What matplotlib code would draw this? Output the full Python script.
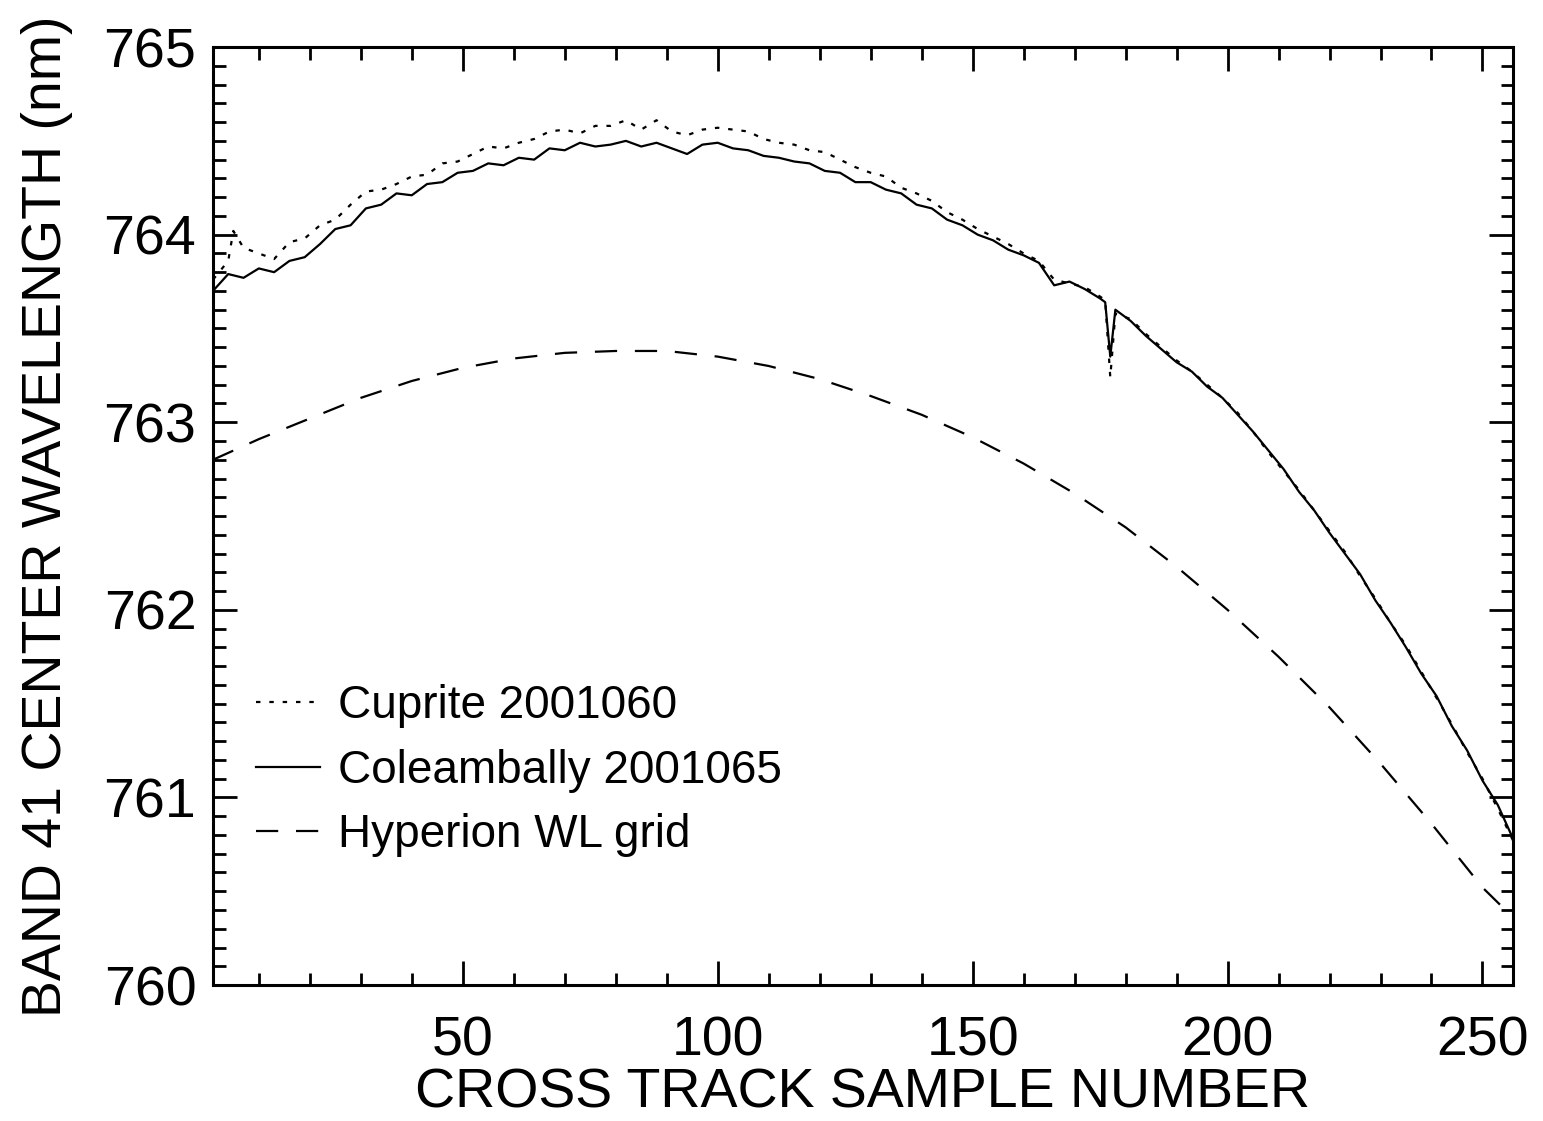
import matplotlib
matplotlib.use("Agg")
import matplotlib.pyplot as plt
from matplotlib.ticker import MultipleLocator

plt.rcParams['font.family'] = ['Liberation Sans', 'DejaVu Sans']

# cross track sample numbers and band 41 centre wavelengths (nm)
cuprite_x = [1, 4, 5, 7, 10, 13, 16, 19, 22, 25, 28, 31, 34, 37, 40, 43, 46, 49,
             52, 55, 58, 61, 64, 67, 70, 73, 76, 79, 82, 85, 88, 91, 94, 97, 100,
             103, 106, 109, 112, 115, 118, 121, 124, 127, 130, 133, 136, 139, 142,
             145, 148, 151, 154, 157, 160, 163, 166, 169, 172, 175, 176, 177, 178,
             181, 184, 187, 190, 193, 196, 199, 202, 205, 208, 211, 214, 217, 220,
             223, 226, 229, 232, 235, 238, 241, 244, 247, 250, 253, 256]
cuprite_y = [763.76, 763.86, 764.02, 763.93, 763.90, 763.87, 763.96, 763.98, 764.05,
             764.08, 764.16, 764.23, 764.24, 764.27, 764.31, 764.32, 764.38, 764.39,
             764.43, 764.47, 764.46, 764.49, 764.51, 764.55, 764.56, 764.54, 764.58,
             764.58, 764.61, 764.56, 764.61, 764.55, 764.53, 764.56, 764.57, 764.56,
             764.55, 764.51, 764.49, 764.48, 764.45, 764.44, 764.40, 764.36, 764.33,
             764.31, 764.25, 764.22, 764.18, 764.12, 764.08, 764.03, 763.99, 763.95,
             763.90, 763.86, 763.76, 763.74, 763.72, 763.67, 763.65, 763.24, 763.58,
             763.55, 763.47, 763.40, 763.33, 763.27, 763.20, 763.13, 763.05, 762.95,
             762.84, 762.74, 762.64, 762.53, 762.42, 762.31, 762.18, 762.06, 761.93,
             761.81, 761.67, 761.53, 761.39, 761.24, 761.10, 760.94, 760.77]

colea_x = [1, 4, 7, 10, 13, 16, 19, 22, 25, 28, 31, 34, 37, 40, 43, 46, 49, 52, 55,
           58, 61, 64, 67, 70, 73, 76, 79, 82, 85, 88, 91, 94, 97, 100, 103, 106,
           109, 112, 115, 118, 121, 124, 127, 130, 133, 136, 139, 142, 145, 148,
           151, 154, 157, 160, 163, 166, 169, 172, 175, 176, 177, 178, 181, 184,
           187, 190, 193, 196, 199, 202, 205, 208, 211, 214, 217, 220, 223, 226,
           229, 232, 235, 238, 241, 244, 247, 250, 253, 256]
colea_y = [763.70, 763.79, 763.77, 763.82, 763.80, 763.86, 763.88, 763.95, 764.03,
           764.05, 764.14, 764.16, 764.22, 764.21, 764.27, 764.28, 764.33, 764.34,
           764.38, 764.37, 764.41, 764.40, 764.46, 764.45, 764.49, 764.47, 764.48,
           764.50, 764.47, 764.49, 764.46, 764.43, 764.48, 764.49, 764.46, 764.45,
           764.42, 764.41, 764.39, 764.38, 764.34, 764.33, 764.28, 764.28, 764.24,
           764.22, 764.16, 764.14, 764.08, 764.05, 764.00, 763.97, 763.92, 763.89,
           763.85, 763.73, 763.75, 763.71, 763.66, 763.64, 763.35, 763.60, 763.54,
           763.46, 763.39, 763.32, 763.27, 763.19, 763.13, 763.04, 762.95, 762.85,
           762.75, 762.63, 762.53, 762.41, 762.30, 762.19, 762.05, 761.93, 761.80,
           761.66, 761.54, 761.38, 761.25, 761.09, 760.96, 760.78]

grid_x = [1, 10, 20, 30, 40, 50, 60, 70, 80, 90, 100, 110, 120, 130, 140, 150,
          160, 170, 180, 190, 200, 210, 220, 230, 240, 250, 256]
grid_y = [762.80, 762.91, 763.02, 763.13, 763.22, 763.29, 763.34, 763.37, 763.38,
          763.38, 763.35, 763.30, 763.23, 763.14, 763.04, 762.92, 762.78, 762.62,
          762.44, 762.23, 762.00, 761.75, 761.48, 761.18, 760.86, 760.52, 760.36]

fig = plt.figure(figsize=(15.43, 11.21), dpi=100)
ax = fig.add_axes([0.138, 0.1213, 0.8426, 0.8367])

ax.plot(cuprite_x, cuprite_y, color='black', lw=1.6, dashes=(2, 4),
        label='Cuprite 2001060')
ax.plot(colea_x, colea_y, color='black', lw=1.6, label='Coleambally 2001065')
ax.plot(grid_x, grid_y, color='black', lw=1.6, dashes=(10, 8),
        label='Hyperion WL grid')

ax.set_xlim(1, 256)
ax.set_ylim(760, 765)
ax.xaxis.set_major_locator(MultipleLocator(50))
ax.xaxis.set_minor_locator(MultipleLocator(10))
ax.yaxis.set_major_locator(MultipleLocator(1))
ax.yaxis.set_minor_locator(MultipleLocator(0.1))
ax.tick_params(which='both', direction='in', top=True, right=True, width=2,
               labelsize=40, colors='black')
ax.tick_params(which='major', length=17)
ax.tick_params(axis='x', which='major', pad=22)
ax.tick_params(axis='y', which='major', pad=12)
ax.tick_params(which='minor', length=9)
for s in ax.spines.values():
    s.set_linewidth(2.2)

ax.set_xlabel('CROSS TRACK SAMPLE NUMBER', fontsize=40, labelpad=0)
ax.set_ylabel('BAND 41 CENTER WAVELENGTH (nm)', fontsize=40, labelpad=22)

ax.legend(loc='upper left', bbox_to_anchor=(0.033, 0.321), frameon=False,
          fontsize=33, handlelength=1.4, handletextpad=0.4, labelspacing=0.45,
          borderpad=0, borderaxespad=0)

fig.savefig('out.png', dpi=100)
